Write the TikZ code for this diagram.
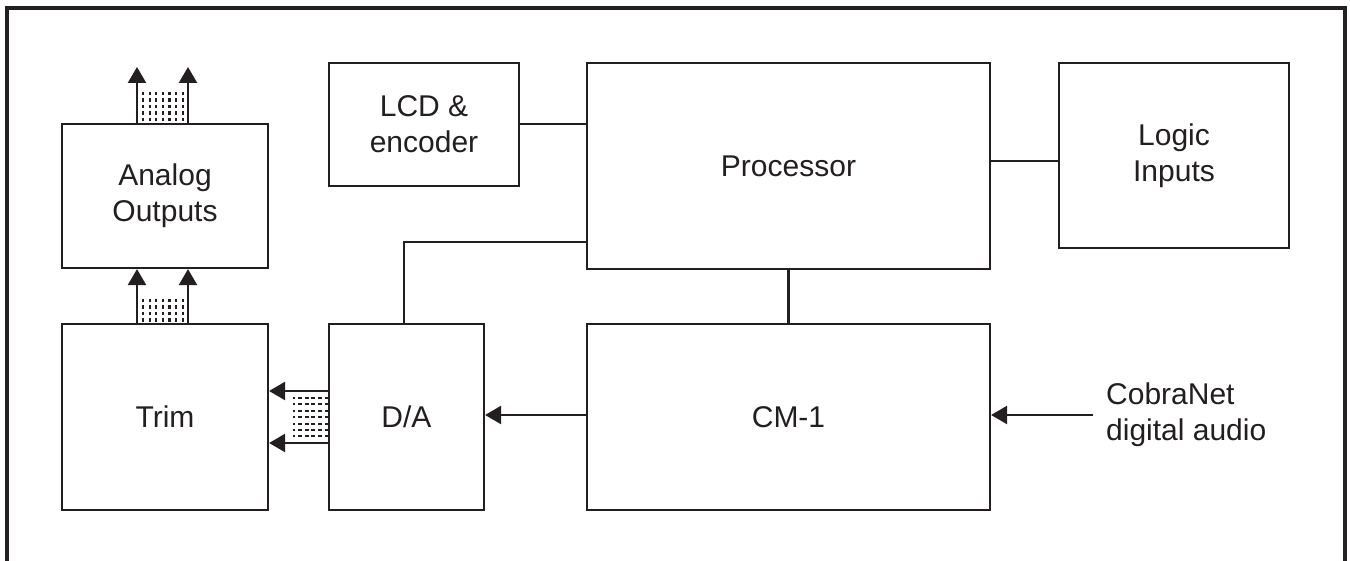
\documentclass[tikz,border=0pt]{standalone}
\usepackage{fontspec}
\setmainfont{Liberation Sans}
\usetikzlibrary{arrows.meta,calc}
\definecolor{ink}{HTML}{231F20}
\begin{document}
\begin{tikzpicture}[x=1pt,y=-1pt,
  box/.style={draw=ink,line width=2.2pt,rectangle,inner sep=0pt,align=center,
    font=\fontsize{30}{36}\selectfont,text=ink},
  wire/.style={draw=ink,line width=2.2pt},
  arr/.style={draw=ink,line width=2.4pt,-{Triangle[length=16pt,width=18pt]}},
  vdots/.style={draw=ink,line width=2.2pt,dash pattern=on 3.5pt off 3pt},
  hdots/.style={draw=ink,line width=2pt,dash pattern=on 4pt off 2.8pt},
  lbl/.style={inner sep=0pt,align=left,font=\fontsize{30}{36}\selectfont,text=ink}]
\useasboundingbox (0,0) rectangle (1350,561);
\fill[white] (0,0) rectangle (1350,561);
% frame
\draw[ink,line width=4pt] (7,561) -- (7,8) -- (1345,8) -- (1345,561);
% boxes
\node[box,minimum width=206,minimum height=144] (ana) at (165,196) {Analog\\Outputs};
\node[box,minimum width=206,minimum height=186] (trim) at (165,417) {Trim};
\node[box,minimum width=190,minimum height=123] (lcd) at (424,124.5) {LCD \&\\encoder};
\node[box,minimum width=403,minimum height=206] (proc) at (788.5,166) {Processor};
\node[box,minimum width=230,minimum height=185] (logic) at (1174,155.5) {Logic\\Inputs};
\node[box,minimum width=155,minimum height=186] (da) at (406.5,417) {D/A};
\node[box,minimum width=403,minimum height=186] (cm) at (788.5,417) {CM-1};
\node[lbl,anchor=west] (cobra) at (1106,415) {CobraNet\\digital audio};
\coordinate (cbs) at (1093,415);
\coordinate (o1) at (137,67);
\coordinate (o2) at (188,67);
% connectors
\draw[wire] ([yshift=0.5]lcd.east) -- ([yshift=0.5]lcd.east -| proc.west);
\draw[wire] ([yshift=-5.5]logic.west) -- ([yshift=-5.5]logic.west -| proc.east);
\draw[wire] ([yshift=-76]proc.west) -| ([xshift=-2.5]da.north);
\draw[wire] (proc.south) -- (cm.north);
\draw[arr] ([yshift=2]cm.west) -- ([yshift=2]da.east);
\draw[arr] (cbs) -- (cbs -| cm.east);
% trim -> analog
\draw[arr] ([xshift=-28]trim.north) -- ([xshift=-28]ana.south);
\draw[arr] ([xshift=23]trim.north) -- ([xshift=23]ana.south);
% analog -> out
\draw[arr] ([xshift=-28]ana.north) -- (o1);
\draw[arr] ([xshift=23]ana.north) -- (o2);
% D/A -> trim
\draw[arr] ([yshift=26]da.west) -- ([yshift=26]da.west -| trim.east);
\draw[arr] ([yshift=-26]da.west) -- ([yshift=-26]da.west -| trim.east);
% dotted bundles
\foreach \i in {0,...,6} {
  \draw[vdots] (143+6.6*\i,92) -- (143+6.6*\i,124);
  \draw[vdots] (143+6.6*\i,299) -- (143+6.6*\i,324);
}
\foreach \j in {0,...,6} {
  \draw[hdots] (329,398+6.4*\j) -- (293,398+6.4*\j);
}
\end{tikzpicture}
\end{document}
